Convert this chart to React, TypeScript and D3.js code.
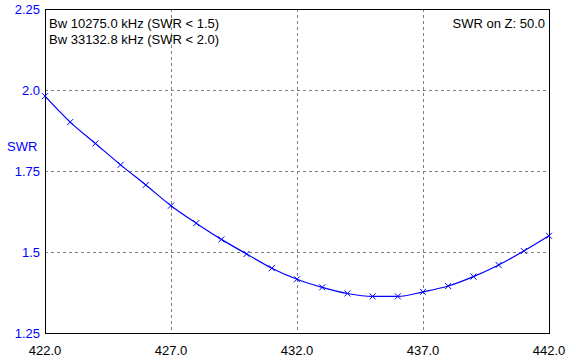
import React from "react";
import * as d3 from "d3";

const freqs = [422, 423, 424, 425, 426, 427, 428, 429, 430, 431, 432, 433, 434, 435, 436, 437, 438, 439, 440, 441, 442];
const swrValues = [1.981, 1.901, 1.835, 1.769, 1.707, 1.643, 1.589, 1.539, 1.494, 1.45, 1.416, 1.391, 1.372, 1.363, 1.363, 1.377, 1.395, 1.424, 1.46, 1.503, 1.55];
const xTicks = [422, 427, 432, 437, 442];
const yTicks = [1.25, 1.5, 1.75, 2.0, 2.25];
const yTickLabels = ["1.25", "1.5", "1.75", "2.0", "2.25"];
const bwLines = ["Bw 10275.0 kHz (SWR < 1.5)", "Bw 33132.8 kHz (SWR < 2.0)"];
const zLabel = "SWR on Z: 50.0";

const width = 576;
const height = 362;
const margin = { left: 45, top: 9, right: 27, bottom: 29 };
const font = "Arial, 'Liberation Sans', sans-serif";
const fs = 13;

const App = () => {
  const svgRef = React.useRef<SVGSVGElement>(null);

  React.useEffect(() => {
    const innerW = width - margin.left - margin.right;
    const innerH = height - margin.top - margin.bottom;
    const xScale = d3.scaleLinear().domain([422, 442]).range([0, innerW]);
    const yScale = d3.scaleLinear().domain([1.25, 2.25]).range([innerH, 0]);

    const svgEl = d3.select(svgRef.current);
    svgEl.selectAll("*").remove();
    svgEl.append("rect").attr("width", width).attr("height", height).attr("fill", "white");
    const svg = svgEl.append("g").attr("transform", `translate(${margin.left},${margin.top})`);

    // dashed grid
    const grid = svg.append("g")
      .attr("stroke", "#808080")
      .attr("stroke-dasharray", "3,3")
      .attr("shape-rendering", "crispEdges");
    grid.selectAll(".gx")
      .data(xTicks.slice(1, -1))
      .enter()
      .append("line")
      .attr("x1", (d) => Math.round(xScale(d)) + 0.5)
      .attr("x2", (d) => Math.round(xScale(d)) + 0.5)
      .attr("y1", 0)
      .attr("y2", innerH);
    grid.selectAll(".gy")
      .data(yTicks.slice(1, -1))
      .enter()
      .append("line")
      .attr("y1", (d) => Math.round(yScale(d)) + 0.5)
      .attr("y2", (d) => Math.round(yScale(d)) + 0.5)
      .attr("x1", 0)
      .attr("x2", innerW);

    // frame
    svg.append("rect")
      .attr("x", 0.5)
      .attr("y", 0.5)
      .attr("width", innerW)
      .attr("height", innerH)
      .attr("fill", "none")
      .attr("stroke", "black")
      .attr("stroke-width", 1.5)
      .attr("shape-rendering", "crispEdges");

    // axis labels
    svg.selectAll(".xl")
      .data(xTicks)
      .enter()
      .append("text")
      .attr("x", (d) => xScale(d))
      .attr("y", innerH + 22)
      .attr("text-anchor", "middle")
      .attr("font-family", font)
      .attr("font-size", fs)
      .attr("fill", "black")
      .text((d) => d.toFixed(1));
    svg.selectAll(".yl")
      .data(yTicks)
      .enter()
      .append("text")
      .attr("x", -5)
      .attr("y", (d) => yScale(d))
      .attr("dy", "0.35em")
      .attr("text-anchor", "end")
      .attr("font-family", font)
      .attr("font-size", fs)
      .attr("fill", "#0000ff")
      .text((d, i) => yTickLabels[i]);
    svg.append("text")
      .attr("x", -38)
      .attr("y", 142)
      .attr("font-family", font)
      .attr("font-size", fs)
      .attr("fill", "#0000ff")
      .text("SWR");

    // info texts
    svg.selectAll(".bw")
      .data(bwLines)
      .enter()
      .append("text")
      .attr("x", 4)
      .attr("y", (d, i) => 19 + i * 16)
      .attr("font-family", font)
      .attr("font-size", fs)
      .attr("fill", "black")
      .text((d) => d);
    svg.append("text")
      .attr("x", innerW - 4)
      .attr("y", 19)
      .attr("text-anchor", "end")
      .attr("font-family", font)
      .attr("font-size", fs)
      .attr("fill", "black")
      .text(zLabel);

    // curve
    const pts = freqs.map((f, i) => ({ f, v: swrValues[i] }));
    const line = d3.line<{ f: number; v: number }>()
      .x((d) => xScale(d.f))
      .y((d) => yScale(d.v))
      .curve(d3.curveMonotoneX);
    svg.append("path")
      .attr("fill", "none")
      .attr("stroke", "#0000ff")
      .attr("stroke-width", 1.2)
      .attr("d", line(pts));

    // x markers
    const s = 3;
    svg.selectAll(".mk")
      .data(pts)
      .enter()
      .append("path")
      .attr("fill", "none")
      .attr("stroke", "#0000ff")
      .attr("stroke-width", 1)
      .attr("d", (d) => {
        const x = xScale(d.f);
        const y = yScale(d.v);
        return `M${x - s},${y - s}L${x + s},${y + s}M${x - s},${y + s}L${x + s},${y - s}`;
      });
  }, []);

  return (
    <svg
      ref={svgRef}
      width={width}
      height={height}
      style={{ position: "absolute", left: 0, top: 0 }}
    />
  );
};

export default App;
